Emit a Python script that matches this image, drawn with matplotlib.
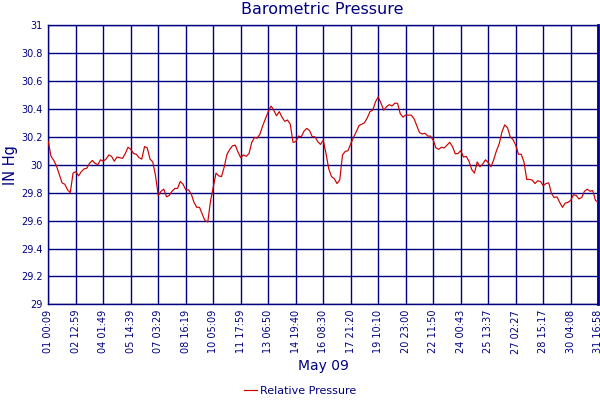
import matplotlib
matplotlib.use("Agg")
import matplotlib.pyplot as plt
import numpy as np

# Relative pressure (inHg), sampled at 10 readings per tick interval
pressure = [
    30.165, 30.06, 30.03, 29.99, 29.93, 29.87, 29.86, 29.82, 29.80, 29.94,
    29.95, 29.92, 29.95, 29.97, 29.975, 30.01, 30.03, 30.01, 30.00, 30.035,
    30.025, 30.04, 30.07, 30.06, 30.025, 30.055, 30.05, 30.045, 30.08, 30.125,
    30.11, 30.08, 30.075, 30.05, 30.04, 30.13, 30.12, 30.04, 30.02, 29.92,
    29.78, 29.81, 29.825, 29.77, 29.78, 29.81, 29.83, 29.83, 29.88, 29.86,
    29.82, 29.82, 29.79, 29.73, 29.695, 29.695, 29.645, 29.60, 29.59, 29.74,
    29.84, 29.94, 29.92, 29.915, 29.985, 30.075, 30.11, 30.135, 30.14, 30.09,
    30.05, 30.07, 30.06, 30.08, 30.16, 30.195, 30.19, 30.22, 30.28, 30.33,
    30.38, 30.42, 30.39, 30.35, 30.38, 30.34, 30.31, 30.32, 30.29, 30.16,
    30.165, 30.205, 30.20, 30.24, 30.26, 30.245, 30.20, 30.20, 30.165, 30.145,
    30.175, 30.08, 29.97, 29.915, 29.90, 29.865, 29.89, 30.07, 30.095, 30.10,
    30.15, 30.195, 30.235, 30.28, 30.29, 30.30, 30.335, 30.38, 30.39, 30.45,
    30.485, 30.44, 30.39, 30.415, 30.43, 30.42, 30.44, 30.44, 30.365, 30.34,
    30.355, 30.355, 30.355, 30.33, 30.28, 30.23, 30.22, 30.225, 30.205, 30.205,
    30.175, 30.12, 30.11, 30.125, 30.12, 30.14, 30.16, 30.13, 30.078, 30.08,
    30.10, 30.055, 30.06, 30.025, 29.965, 29.94, 30.02, 29.985, 30.005, 30.035,
    30.015, 29.985, 30.035, 30.10, 30.15, 30.235, 30.285, 30.265, 30.20, 30.18,
    30.14, 30.075, 30.075, 30.02, 29.895, 29.895, 29.89, 29.865, 29.885, 29.88,
    29.85, 29.865, 29.87, 29.795, 29.765, 29.77, 29.73, 29.695, 29.725, 29.73,
    29.745, 29.785, 29.78, 29.755, 29.765, 29.81, 29.825, 29.81, 29.815, 29.745,
    29.73,
]

tick_labels = [
    "01 00:09", "02 12:59", "04 01:49", "05 14:39", "07 03:29", "08 16:19",
    "10 05:09", "11 17:59", "13 06:50", "14 19:40", "16 08:30", "17 21:20",
    "19 10:10", "20 23:00", "22 11:50", "24 00:43", "25 13:37", "27 02:27",
    "28 15:17", "30 04:08", "31 16:58",
]
y_ticks = [29, 29.2, 29.4, 29.6, 29.8, 30, 30.2, 30.4, 30.6, 30.8, 31]
y_tick_labels = ["29", "29.2", "29.4", "29.6", "29.8", "30", "30.2", "30.4",
                 "30.6", "30.8", "31"]

samples_per_tick = 10
navy = "#000080"
red = "#CC0000"

fig = plt.figure(figsize=(6, 4), dpi=100)
ax = fig.add_axes([0.0805, 0.239, 0.9165, 0.6985])

x = np.arange(len(pressure)) / samples_per_tick
ax.plot(x, pressure, color=red, linewidth=0.85, label="Relative Pressure", zorder=3)

ax.set_xlim(0, len(tick_labels) - 1)
ax.set_ylim(29, 31)
ax.set_xticks(np.arange(len(tick_labels)))
ax.set_xticklabels(tick_labels, rotation=90, fontsize=7, color=navy)
ax.set_yticks(y_ticks)
ax.set_yticklabels(y_tick_labels, fontsize=7, color=navy)
ax.tick_params(axis="both", length=0, pad=4)

ax.grid(True, color=navy, linewidth=1.0, zorder=1)
ax.set_axisbelow(True)
for name, sp in ax.spines.items():
    sp.set_color(navy)
    sp.set_linewidth(1.0)
ax.spines["right"].set_linewidth(2.0)

ax.set_ylabel("IN Hg", fontsize=10.5, color=navy, labelpad=2)
ax.set_xlabel("May 09", fontsize=10, color=navy, labelpad=4)
fig.text(0.537, 1 - 10 / 400, "Barometric Pressure", fontsize=11.5, color=navy,
         ha="center", va="center")

leg = fig.legend(loc="center", bbox_to_anchor=(0.5, 1 - 391 / 400), frameon=False,
                 fontsize=8, handlelength=1.2, handletextpad=0.3)
for t in leg.get_texts():
    t.set_color(navy)

fig.savefig("out.png", dpi=100)
